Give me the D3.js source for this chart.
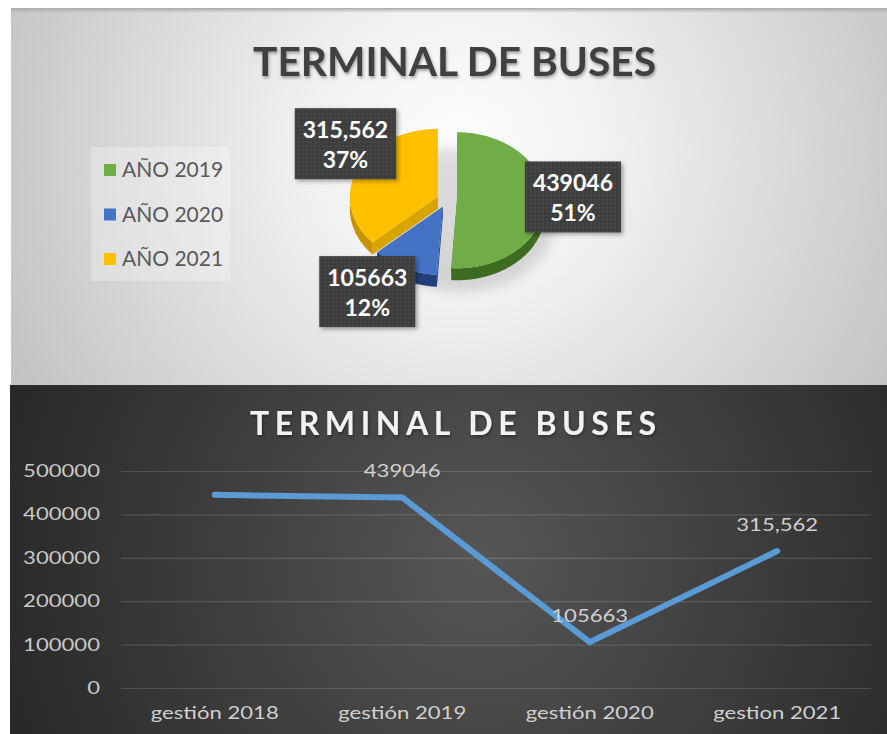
<!DOCTYPE html>
<html>
<head>
<meta charset="utf-8">
<script src="https://cdn.jsdelivr.net/npm/d3@7"></script>
<style>
  html, body { margin: 0; padding: 0; background: #ffffff; }
  svg { display: block; }
</style>
</head>
<body>
<svg id="chart" width="887" height="734"></svg>
<script>
// Pie: passengers per year
const pieCategories = ["AÑO 2019", "AÑO 2020", "AÑO 2021"];
const pieValues = [439046, 105663, 315562];
const pieValueLabels = ["439046", "105663", "315,562"];

// Line: passengers per management year
const lineCategories = ["gestión 2018", "gestión 2019", "gestión 2020", "gestion 2021"];
const lineValues = [445000, 439046, 105663, 315562];
const lineValueLabels = ["", "439046", "105663", "315,562"];
const yTickValues = [0, 100000, 200000, 300000, 400000, 500000];

const chartTitle = "TERMINAL DE BUSES";

const FONT = "Lato, 'Open Sans', sans-serif";
const svg = d3.select("#chart");
const defs = svg.append("defs");

// ---------- shared definitions ----------
const gTop = defs.append("radialGradient").attr("id", "bgTop")
  .attr("gradientUnits", "userSpaceOnUse").attr("cx", 460).attr("cy", 150).attr("r", 500);
gTop.append("stop").attr("offset", 0).attr("stop-color", "#fdfdfd");
gTop.append("stop").attr("offset", 0.3).attr("stop-color", "#f1f1f1");
gTop.append("stop").attr("offset", 1).attr("stop-color", "#c2c2c2");

const gBot = defs.append("radialGradient").attr("id", "bgBot")
  .attr("gradientUnits", "userSpaceOnUse").attr("cx", 480).attr("cy", 560).attr("r", 520);
gBot.append("stop").attr("offset", 0).attr("stop-color", "#565656");
gBot.append("stop").attr("offset", 1).attr("stop-color", "#262626");

const edge = defs.append("linearGradient").attr("id", "topEdge").attr("x1", 0).attr("y1", 0).attr("x2", 0).attr("y2", 1);
edge.append("stop").attr("offset", 0).attr("stop-color", "#aaaaaa");
edge.append("stop").attr("offset", 1).attr("stop-color", "#aaaaaa").attr("stop-opacity", 0);

const dots = defs.append("pattern").attr("id", "dots").attr("patternUnits", "userSpaceOnUse")
  .attr("width", 4).attr("height", 4);
dots.append("rect").attr("width", 4).attr("height", 4).attr("fill", "#3d3d3d");
dots.append("circle").attr("cx", 2).attr("cy", 2).attr("r", 0.9).attr("fill", "#4e4e4e");

const shadow = defs.append("filter").attr("id", "boxShadow").attr("x", "-20%").attr("y", "-20%").attr("width", "150%").attr("height", "150%");
shadow.append("feDropShadow").attr("dx", 2).attr("dy", 2).attr("stdDeviation", 2)
  .attr("flood-color", "#000").attr("flood-opacity", 0.35);

const titleShadow = defs.append("filter").attr("id", "titleShadow").attr("x", "-10%").attr("y", "-30%").attr("width", "120%").attr("height", "160%");
titleShadow.append("feDropShadow").attr("dx", 1).attr("dy", 2).attr("stdDeviation", 1.5)
  .attr("flood-color", "#000").attr("flood-opacity", 0.35);

const pieShadow = defs.append("filter").attr("id", "pieShadow").attr("x", "-50%").attr("y", "-50%").attr("width", "200%").attr("height", "200%");
pieShadow.append("feGaussianBlur").attr("stdDeviation", 6);

// ---------- top panel: 3D pie ----------
svg.append("rect").attr("x", 11).attr("y", 8).attr("width", 876).attr("height", 377).attr("fill", "url(#bgTop)");
svg.append("rect").attr("x", 11).attr("y", 8).attr("width", 876).attr("height", 5).attr("fill", "url(#topEdge)");

svg.append("text")
  .attr("x", 454.5).attr("y", 76)
  .attr("text-anchor", "middle")
  .attr("font-family", FONT).attr("font-weight", 700).attr("font-size", 40)
  .attr("fill", "#404040")
  .attr("textLength", 403).attr("lengthAdjust", "spacingAndGlyphs")
  .attr("filter", "url(#titleShadow)")
  .text(chartTitle);

const pieColors = ["#70ad47", "#4472c4", "#ffc000"];
const wallColors = ["#3e6b22", "#213f78", "#c69300"];
const faceColors = ["#4a7f2a", "#2a4c8c", "#d8a400"];

const cx = 447, cy = 200, rx = 88, ry = 68, depth = 12, explode = 10;
const arcs = d3.pie().sort(null).startAngle(0).endAngle(2 * Math.PI).value(d => d)(pieValues);
const total = d3.sum(pieValues);

function P(a, r, o, z) {
  return [cx + o[0] + rx * r * Math.sin(a), cy + o[1] - ry * r * Math.cos(a) + z];
}
function arcPts(a0, a1, o, z) {
  const n = Math.max(2, Math.ceil((a1 - a0) / 0.02));
  return d3.range(n + 1).map(i => P(a0 + (a1 - a0) * i / n, 1, o, z));
}
const poly = d3.line().curve(d3.curveLinearClosed);

arcs.forEach(a => {
  const mid = (a.startAngle + a.endAngle) / 2;
  a.mid = mid;
  a.off = [explode * Math.sin(mid), -explode * Math.cos(mid) * (ry / rx)];
});

const pieG = svg.append("g");

// soft floor shadow
pieG.append("ellipse")
  .attr("cx", cx + 14).attr("cy", cy + depth + 8).attr("rx", rx + 6).attr("ry", ry + 4)
  .attr("fill", "#000").attr("opacity", 0.12).attr("filter", "url(#pieShadow)");

// side walls and cut faces
arcs.forEach((a, i) => {
  const o = a.off;
  [a.startAngle, a.endAngle].forEach(ang => {
    const pts = [P(0, 0, o, 0), P(ang, 1, o, 0), P(ang, 1, o, depth), P(0, 0, o, depth)];
    pieG.append("path").attr("d", poly(pts)).attr("fill", faceColors[i]);
  });
  const lo = Math.max(a.startAngle, Math.PI / 2), hi = Math.min(a.endAngle, 3 * Math.PI / 2);
  if (lo < hi) {
    const pts = arcPts(lo, hi, o, 0).concat(arcPts(lo, hi, o, depth).reverse());
    pieG.append("path").attr("d", poly(pts)).attr("fill", wallColors[i]);
  }
});

// top faces
arcs.forEach((a, i) => {
  const pts = [P(0, 0, a.off, 0)].concat(arcPts(a.startAngle, a.endAngle, a.off, 0));
  pieG.append("path").attr("d", poly(pts)).attr("fill", pieColors[i]);
});

// data label boxes
const labelShift = [[28, -5], [-37, 24], [-12, -25]];
const pctFmt = d3.format(".0%");
arcs.forEach((a, i) => {
  const base = P(a.mid, 1, a.off, 0);
  const lx = base[0] + labelShift[i][0], ly = base[1] + labelShift[i][1];
  const g = svg.append("g").attr("transform", `translate(${lx},${ly})`);
  const rect = g.append("rect").attr("fill", "url(#dots)").attr("filter", "url(#boxShadow)");
  const t1 = g.append("text").attr("y", -6).attr("text-anchor", "middle")
    .attr("font-family", FONT).attr("font-weight", 700).attr("font-size", 23).attr("fill", "#ffffff")
    .text(pieValueLabels[i]);
  const t2 = g.append("text").attr("y", 24).attr("text-anchor", "middle")
    .attr("font-family", FONT).attr("font-weight", 700).attr("font-size", 23).attr("fill", "#ffffff")
    .text(pctFmt(a.value / total));
  const w = Math.max(t1.node().getComputedTextLength(), t2.node().getComputedTextLength()) + 16;
  rect.attr("x", -w / 2).attr("y", -36).attr("width", w).attr("height", 71);
});

// legend
const legend = svg.append("g");
legend.append("rect").attr("x", 91).attr("y", 147).attr("width", 139).attr("height", 134)
  .attr("fill", "#ffffff").attr("opacity", 0.28);
pieCategories.forEach((c, i) => {
  const by = 177 + i * 44.5;
  legend.append("rect").attr("x", 104).attr("y", by - 13).attr("width", 12).attr("height", 12).attr("fill", pieColors[i]);
  legend.append("text").attr("x", 122).attr("y", by)
    .attr("font-family", FONT).attr("font-size", 21).attr("fill", "#595959").text(c);
});

// ---------- bottom panel: line chart ----------
svg.append("rect").attr("x", 10).attr("y", 385).attr("width", 877).attr("height", 349).attr("fill", "url(#bgBot)");

svg.append("text")
  .attr("x", 453).attr("y", 435)
  .attr("text-anchor", "middle")
  .attr("font-family", FONT).attr("font-weight", 700).attr("font-size", 32)
  .attr("fill", "#f2f2f2")
  .attr("textLength", 406).attr("lengthAdjust", "spacing")
  .attr("filter", "url(#titleShadow)")
  .text(chartTitle);

const plotL = 121, plotR = 871;
const y = d3.scaleLinear().domain([0, 500000]).range([688, 471]);
const x = d3.scaleBand().domain(lineCategories).range([plotL, plotR]);
const xc = c => x(c) + x.bandwidth() / 2;

const STRETCH = 1.3;
function stretch(sel) {
  sel.each(function () {
    const w = this.getComputedTextLength();
    d3.select(this).attr("textLength", w * STRETCH).attr("lengthAdjust", "spacingAndGlyphs");
  });
}

const yAxis = svg.append("g").attr("transform", `translate(${plotL},0)`)
  .call(d3.axisLeft(y).tickValues(yTickValues).tickSize(-(plotR - plotL)).tickPadding(21).tickFormat(d3.format("d")));
yAxis.select(".domain").remove();
yAxis.selectAll(".tick line").attr("stroke", "#ffffff").attr("stroke-opacity", 0.14).attr("stroke-width", 1.2);
yAxis.selectAll(".tick text").attr("font-family", FONT).attr("font-size", 17).attr("fill", "#c8c8c8").call(stretch);

const xAxis = svg.append("g").attr("transform", `translate(0,688)`)
  .call(d3.axisBottom(x).tickSize(0).tickPadding(19));
xAxis.select(".domain").remove();
xAxis.selectAll(".tick text").attr("font-family", FONT).attr("font-size", 17).attr("fill", "#d0d0d0").call(stretch);

const line = d3.line().x((d, i) => xc(lineCategories[i])).y(d => y(d));
svg.append("path").datum(lineValues)
  .attr("d", line)
  .attr("fill", "none").attr("stroke", "#5b9bd5").attr("stroke-width", 6)
  .attr("stroke-linejoin", "round").attr("stroke-linecap", "round");

svg.append("g").selectAll("text").data(lineValues).join("text")
  .attr("x", (d, i) => xc(lineCategories[i]))
  .attr("y", d => y(d) - 20)
  .attr("text-anchor", "middle")
  .attr("font-family", FONT).attr("font-size", 17).attr("fill", "#d0d0d0")
  .text((d, i) => lineValueLabels[i])
  .call(stretch);
</script>
</body>
</html>
